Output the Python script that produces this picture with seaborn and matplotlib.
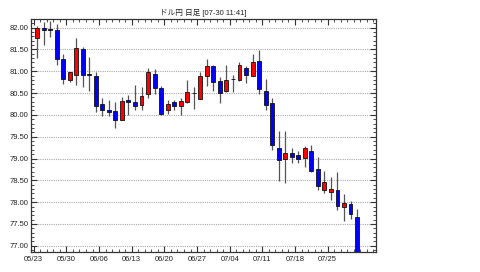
import matplotlib
matplotlib.use("Agg")
import matplotlib.pyplot as plt
import seaborn as sns
import numpy as np
import pandas as pd
from matplotlib.ticker import MultipleLocator, FixedLocator

title = "ドル円 日足 [07-30 11:41]"
week_labels = ["05/23", "05/30", "06/06", "06/13", "06/20", "06/27", "07/04", "07/11", "07/18", "07/25"]

opens = [81.77, 82.00, 81.96, 81.95, 81.27, 80.79, 80.92, 81.50, 80.94, 80.89,
         80.24, 80.10, 80.08, 79.89, 80.34, 80.30, 80.23, 80.48, 80.94, 80.61,
         80.12, 80.29, 80.20, 80.29, 80.50, 80.37, 80.88, 81.11, 80.77, 80.54,
         80.82, 80.80, 81.07, 80.89, 81.23, 80.55, 80.26, 79.23, 78.98, 79.12,
         79.07, 79.02, 79.17, 78.77, 78.29, 78.23, 78.29, 77.90, 77.96, 77.65]
highs = [82.03, 82.13, 82.15, 82.09, 81.39, 80.99, 81.75, 81.56, 81.32, 80.99,
         80.39, 80.33, 80.30, 80.42, 80.46, 80.69, 80.64, 81.08, 81.05, 80.67,
         80.33, 80.35, 80.39, 80.80, 80.63, 80.99, 81.27, 81.15, 80.86, 81.14,
         80.92, 81.20, 81.12, 81.39, 81.48, 80.83, 80.39, 79.63, 79.62, 79.25,
         79.18, 79.29, 79.31, 79.03, 78.72, 78.57, 78.68, 78.18, 78.03, 77.84]
lows = [81.31, 81.60, 81.79, 81.14, 80.70, 80.76, 80.69, 80.64, 80.55, 80.07,
        79.98, 79.98, 79.70, 79.88, 79.99, 80.11, 80.11, 80.39, 80.48, 80.00,
        80.02, 80.10, 80.00, 80.27, 80.14, 80.36, 80.67, 80.55, 80.26, 80.52,
        80.52, 80.78, 80.74, 80.88, 80.48, 80.11, 79.19, 78.48, 78.45, 78.89,
        78.90, 78.81, 78.68, 78.28, 78.20, 78.05, 77.82, 77.58, 77.62, 76.80]
closes = [81.98, 81.95, 81.94, 81.29, 80.82, 80.98, 81.53, 80.92, 80.91, 80.21,
          80.11, 80.06, 79.89, 80.32, 80.29, 80.20, 80.44, 80.98, 80.61, 80.01,
          80.25, 80.21, 80.32, 80.52, 80.49, 80.88, 81.12, 80.75, 80.50, 80.80,
          80.81, 81.13, 80.92, 81.20, 80.60, 80.23, 79.31, 78.97, 79.13, 79.04,
          79.00, 79.23, 78.72, 78.38, 78.47, 78.31, 77.91, 77.97, 77.74, 76.85]

df = pd.DataFrame({"open": opens, "high": highs, "low": lows, "close": closes})
df["x"] = np.arange(len(df))
df["up"] = df["close"] >= df["open"]

sns.set_style("white")
plt.rcParams["font.family"] = ["Liberation Sans", "Noto Sans CJK JP", "DejaVu Sans"]

fig = plt.figure(figsize=(4.8, 2.72), dpi=100)
ax = fig.add_axes([31 / 480, 1 - 251.5 / 272, 345 / 480, (251.5 - 19) / 272])

# grid
for v in np.arange(77.0, 82.01, 0.5):
    ax.axhline(v, color="#aaaaaa", lw=0.8, ls=(0, (1, 1)), zorder=0)

# wicks
ax.vlines(df["x"], df["low"], df["high"], color="#555555", lw=0.9, zorder=1)

# bodies
colors = np.where(df["up"], "#ff0000", "#0000ff")
bottoms = np.minimum(df["open"], df["close"])
heights = np.maximum(np.abs(df["close"] - df["open"]), 0.005)
ax.bar(df["x"], heights, bottom=bottoms, width=0.6, color=colors,
       edgecolor="#111111", linewidth=0.6, zorder=2)

ax.set_xlim(-0.92, 51.9)
ax.set_ylim(76.87, 82.195)

# x ticks: weekly labels at day boundaries
major_pos = [i * 5 - 0.5 for i in range(len(week_labels))]
ax.xaxis.set_major_locator(FixedLocator(major_pos))
ax.set_xticklabels(week_labels)
ax.xaxis.set_minor_locator(FixedLocator([i - 0.5 for i in range(0, 53)]))

ax.yaxis.set_major_locator(MultipleLocator(0.5))
ax.yaxis.set_minor_locator(MultipleLocator(0.1))
ax.yaxis.set_major_formatter(matplotlib.ticker.FormatStrFormatter("%.2f"))

ax.tick_params(axis="both", which="both", direction="in", top=True, right=True,
               bottom=True, left=True, labelsize=5.5, colors="#333333",
               labelcolor="#222222")
ax.tick_params(axis="both", which="major", length=4, width=0.8, pad=2)
ax.tick_params(axis="both", which="minor", length=2.5, width=0.6)
ax.tick_params(axis="x", which="major", pad=3)

for s in ax.spines.values():
    s.set_visible(True)
    s.set_color("#333333")
    s.set_linewidth(0.9)

ax.set_title(title, fontsize=5.5, color="#222222", pad=3)

fig.savefig("out.png", dpi=100, facecolor="white")
